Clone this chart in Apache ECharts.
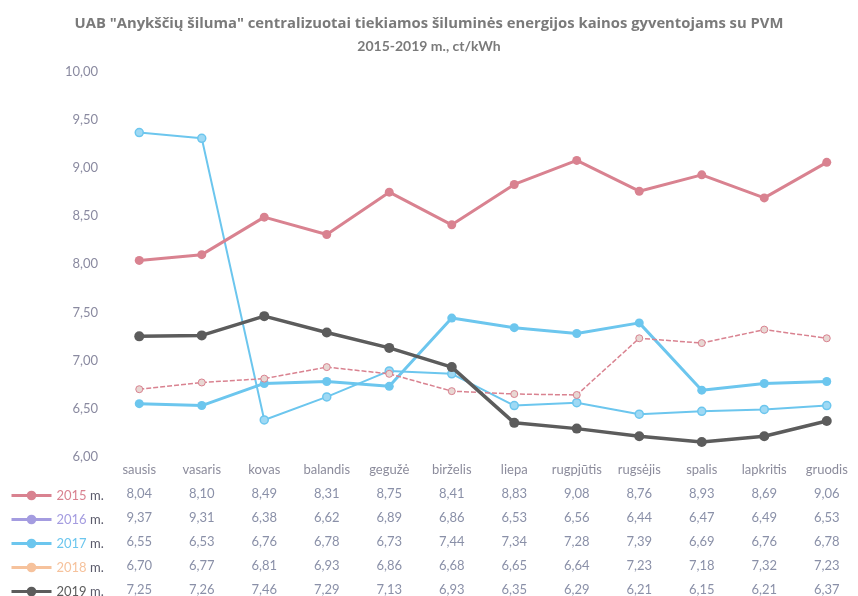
<!DOCTYPE html>
<html>
<head>
<meta charset="utf-8">
<script src="https://cdn.jsdelivr.net/npm/echarts@6/dist/echarts.min.js"></script>
<style>html,body{margin:0;padding:0;background:#fff;}#c{width:858px;height:596px;}</style>
</head>
<body>
<div id="c"></div>
<script>
var categories = ['sausis','vasaris','kovas','balandis','gegužė','birželis','liepa','rugpjūtis','rugsėjis','spalis','lapkritis','gruodis'];
var seriesNames = ['2015 m.','2016 m.','2017 m.','2018 m.','2019 m.'];
var s2015 = [8.04,8.10,8.49,8.31,8.75,8.41,8.83,9.08,8.76,8.93,8.69,9.06];
var s2016 = [9.37,9.31,6.38,6.62,6.89,6.86,6.53,6.56,6.44,6.47,6.49,6.53];
var s2017 = [6.55,6.53,6.76,6.78,6.73,7.44,7.34,7.28,7.39,6.69,6.76,6.78];
var s2018 = [6.70,6.77,6.81,6.93,6.86,6.68,6.65,6.64,7.23,7.18,7.32,7.23];
var s2019 = [7.25,7.26,7.46,7.29,7.13,6.93,6.35,6.29,6.21,6.15,6.21,6.37];
var yMin = 6, yMax = 10, yStep = 0.5;
var titleLine1 = 'UAB "Anykščių šiluma" centralizuotai tiekiamos šiluminės energijos kainos gyventojams su PVM';
var titleLine2 = '2015-2019 m., ct/kWh';

var allSeries = [s2015,s2016,s2017,s2018,s2019];
var legendColors = ['#d98290','#a49ce0','#6cc6ee','#f6c29c','#5c5c5c'];
function fmt(v){ return v.toFixed(2).replace('.', ','); }

var FONT = 'Lato';
var legends = seriesNames.map(function (n, i) {
  var rich = { y: { fontFamily: FONT, fontSize: 13, color: legendColors[i] }, m: { fontFamily: FONT, fontSize: 13, color: '#5a5a6a' } };
  return {
    orient: 'vertical', left: 5, top: 484 + i * 24,
    itemWidth: 40, itemHeight: 12,
    formatter: function (name) { var p = name.split(' '); return '{y|' + p[0] + '} {m|' + p[1] + '}'; },
    textStyle: { fontFamily: FONT, fontSize: 13, color: '#5a5a6a', rich: rich },
    data: [{ name: n,
      itemStyle: { color: legendColors[i], borderColor: legendColors[i], borderWidth: 0 },
      lineStyle: { color: legendColors[i], width: 3, type: 'solid' } }]
  };
});

var chart = echarts.init(document.getElementById('c'));
var option = {
  backgroundColor: '#fff',
  textStyle: { fontFamily: FONT },
  title: [
    { text: titleLine1, left: 'center', top: 11,
      textStyle: { fontFamily: 'Open Sans', fontSize: 14.8, fontWeight: 'bold', color: '#7a7a7a' } },
    { text: titleLine2, left: 'center', top: 34,
      textStyle: { fontFamily: FONT, fontSize: 14, fontWeight: 'bold', color: '#7a7a7a' } }
  ],
  legend: legends,
  grid: { left: 108, top: 72, width: 756, height: 385 },
  xAxis: {
    type: 'category', data: categories, boundaryGap: true,
    axisLine: { show: false }, axisTick: { show: false },
    axisLabel: {
      margin: 1, interval: 0,
      formatter: function (v, i) {
        var lines = ['{c|' + v + '}'];
        for (var k = 0; k < allSeries.length; k++) lines.push('{v|' + fmt(allSeries[k][i]) + '}');
        return lines.join('\n');
      },
      rich: {
        c: { fontFamily: FONT, fontSize: 13, color: '#8c8c9c', lineHeight: 24 },
        v: { fontFamily: FONT, fontSize: 13, color: '#8a90a8', lineHeight: 24 }
      }
    }
  },
  yAxis: {
    type: 'value', min: yMin, max: yMax, interval: yStep,
    splitLine: { show: false }, axisLine: { show: false }, axisTick: { show: false },
    axisLabel: { margin: 10, fontFamily: FONT, fontSize: 13, color: '#8a8aa0', formatter: function (v) { return fmt(v); } }
  },
  series: [
    { name: seriesNames[0], type: 'line', data: s2015, symbol: 'circle', symbolSize: 9,
      lineStyle: { color: '#d98290', width: 3 }, itemStyle: { color: '#d98290' }, z: 3 },
    { name: seriesNames[1], type: 'line', data: s2016, symbol: 'circle', symbolSize: 8,
      lineStyle: { color: '#6cc6ee', width: 2 }, itemStyle: { color: '#9fd9f4', borderColor: '#6cc6ee', borderWidth: 1.5 }, z: 2 },
    { name: seriesNames[2], type: 'line', data: s2017, symbol: 'circle', symbolSize: 9,
      lineStyle: { color: '#6cc6ee', width: 3 }, itemStyle: { color: '#6cc6ee' }, z: 3 },
    { name: seriesNames[3], type: 'line', data: s2018, symbol: 'circle', symbolSize: 7,
      lineStyle: { color: '#d98290', width: 1.5, type: [5, 2] }, itemStyle: { color: '#e8d7d3', borderColor: '#d98290', borderWidth: 1 }, z: 4 },
    { name: seriesNames[4], type: 'line', data: s2019, symbol: 'circle', symbolSize: 10,
      lineStyle: { color: '#5c5c5c', width: 3.5 }, itemStyle: { color: '#5c5c5c' }, z: 5 }
  ],
  animation: false
};
chart.setOption(option);
</script>
</body>
</html>
